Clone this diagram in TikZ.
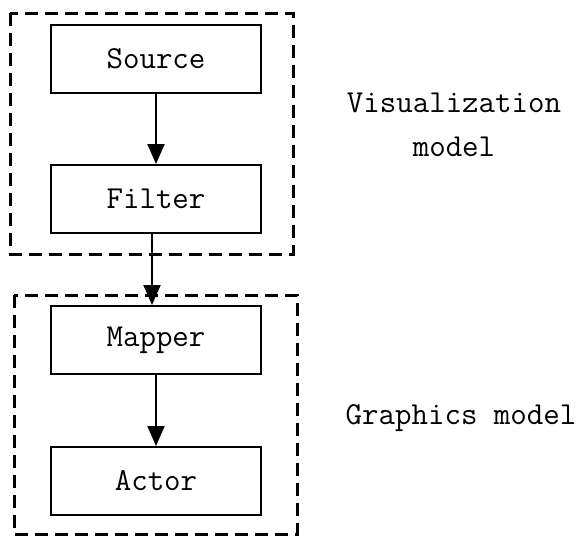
\documentclass[tikz,border=0pt]{standalone}
\usepackage{fontspec}
\usetikzlibrary{arrows.meta}
\tikzset{
  stepbox/.style={draw, line width=2pt, minimum width=210pt, minimum height=68pt, inner sep=0pt, font=\ttfamily\fontsize{32}{36}\selectfont},
  groupbox/.style={draw, line width=3pt, dash pattern=on 13pt off 7pt},
  flow/.style={line width=2pt, -{Triangle[length=20pt,width=17pt]}},
  lbl/.style={font=\ttfamily\fontsize{32}{44}\selectfont, align=center}
}
\begin{document}
\begin{tikzpicture}[x=1pt,y=-1pt]
\useasboundingbox (0,0) rectangle (583,536);
\draw[groupbox] (10,13) rectangle (293,254);
\draw[groupbox] (14,295) rectangle (297,534);
\node[stepbox] (src) at (156,59) {Source};
\node[stepbox] (flt) at (156,199) {Filter};
\node[stepbox] (map) at (156,340) {Mapper};
\node[stepbox] (act) at (156,481) {Actor};
\draw[flow] (src) -- (flt);
\draw[flow] ([xshift=-4pt]flt.south) -- ([xshift=-4pt]map.north);
\draw[flow] (map) -- (act);
\node[lbl] (vis) at (454,125) {Visualization\\model};
\node[lbl] (gfx) at (461,418) {Graphics model};
\end{tikzpicture}
\end{document}
